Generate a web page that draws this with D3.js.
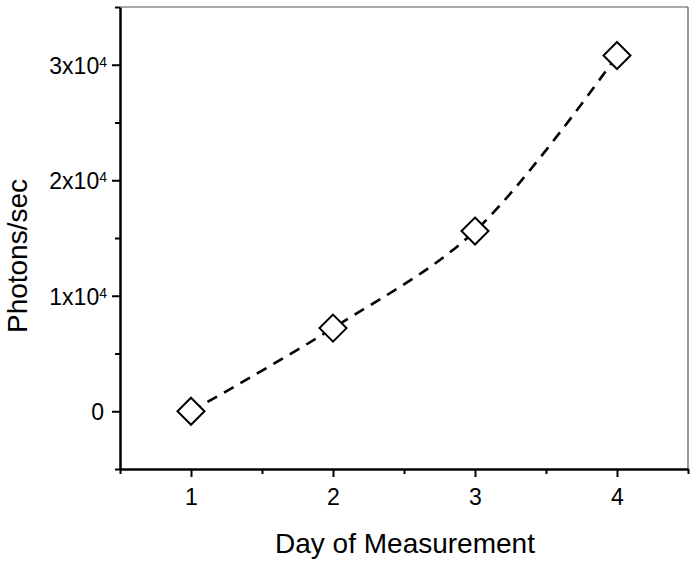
<!DOCTYPE html>
<html>
<head>
<meta charset="utf-8">
<script src="https://cdn.jsdelivr.net/npm/d3@7"></script>
<style>
  body { margin: 0; background: #fff; }
  text { font-family: "Liberation Sans", Arial, sans-serif; fill: #000; }
</style>
</head>
<body>
<script>
// data
var days = [1, 2, 3, 4];
var photons = [0, 7200, 15600, 30800];
var yMajor = [0, 10000, 20000, 30000];
var xMajor = [1, 2, 3, 4];

(function () {

    var width = 696, height = 564;
    var mLeft = 120, mRight = 688, mTop = 7, mBottom = 469;

    var svg = d3.select("body").append("svg")
        .attr("width", width).attr("height", height);

    var x = d3.scaleLinear().domain([0.5, 4.5]).range([mLeft, mRight]);
    var y = d3.scaleLinear().domain([-5000, 35000]).range([mBottom, mTop]);

    // frame, top and right are thin
    svg.append("line")
        .attr("x1", mLeft).attr("x2", mRight).attr("y1", mTop).attr("y2", mTop)
        .style("stroke", "#555").style("stroke-width", 1.2);
    svg.append("line")
        .attr("x1", mRight).attr("x2", mRight).attr("y1", mTop).attr("y2", mBottom)
        .style("stroke", "#555").style("stroke-width", 1.2);

    // minor ticks
    var xMinor = d3.range(0.5, 4.6, 1);
    var yMinor = d3.range(-5000, 35001, 10000);

    svg.append("g")
        .attr("transform", "translate(0," + mBottom + ")")
        .call(d3.axisBottom(x).tickValues(xMinor).tickSize(5).tickFormat(""))
        .call(function (g) { g.select(".domain").remove(); })
        .selectAll("line").style("stroke-width", 2);

    svg.append("g")
        .attr("transform", "translate(" + mLeft + ",0)")
        .call(d3.axisLeft(y).tickValues(yMinor).tickSize(5).tickFormat(""))
        .call(function (g) { g.select(".domain").remove(); })
        .selectAll("line").style("stroke-width", 2);

    // x axis
    var xAxis = svg.append("g")
        .attr("transform", "translate(0," + mBottom + ")")
        .call(d3.axisBottom(x).tickValues(xMajor).tickFormat(d3.format("d"))
            .tickSize(8).tickSizeOuter(0).tickPadding(12));
    xAxis.select(".domain").style("stroke-width", 2.5);
    xAxis.selectAll("line").style("stroke-width", 2);
    xAxis.attr("font-size", 23).attr("font-family", "Liberation Sans, Arial, sans-serif");

    // y axis, labels drawn by hand for the superscript
    var yAxis = svg.append("g")
        .attr("transform", "translate(" + mLeft + ",0)")
        .call(d3.axisLeft(y).tickValues(yMajor).tickSize(8).tickSizeOuter(0).tickFormat(""));
    yAxis.select(".domain").style("stroke-width", 2.5);
    yAxis.selectAll("line").style("stroke-width", 2);

    yMajor.forEach(function (v) {
        var t = svg.append("text")
            .attr("x", mLeft - 13).attr("y", y(v))
            .attr("dy", "0.4em")
            .attr("text-anchor", "end")
            .attr("font-size", 23);
        if (v === 0) {
            t.attr("x", mLeft - 16).text("0");
        } else {
            t.append("tspan").text((v / 10000) + "x10");
            t.append("tspan").attr("dy", "-0.5em").attr("font-size", 14).text("4");
        }
    });

    // axis titles
    svg.append("text")
        .attr("x", (mLeft + mRight) / 2 + 1).attr("y", 553)
        .attr("text-anchor", "middle")
        .attr("font-size", 28)
        .text("Day of Measurement");

    svg.append("text")
        .attr("transform", "translate(27,256) rotate(-90)")
        .attr("text-anchor", "middle")
        .attr("font-size", 28)
        .text("Photons/sec");

    // dashed curve
    var pts = days.map(function (d, i) { return [d, photons[i]]; });
    var line = d3.line()
        .x(function (d) { return x(d[0]); })
        .y(function (d) { return y(d[1]); })
        .curve(d3.curveCatmullRom.alpha(0.5));

    svg.append("path")
        .datum(pts)
        .attr("d", line)
        .style("fill", "none")
        .style("stroke", "black")
        .style("stroke-width", 2.6)
        .style("stroke-dasharray", "11,8");

    // diamond markers
    var r = 13.5;
    svg.selectAll(".pt")
        .data(pts)
        .enter().append("path")
        .attr("class", "pt")
        .attr("d", function (d) {
            var cx = x(d[0]), cy = y(d[1]);
            return "M" + cx + "," + (cy - r) + "L" + (cx + r) + "," + cy +
                "L" + cx + "," + (cy + r) + "L" + (cx - r) + "," + cy + "Z";
        })
        .style("fill", "white")
        .style("stroke", "black")
        .style("stroke-width", 2);

})();
</script>
</body>
</html>
